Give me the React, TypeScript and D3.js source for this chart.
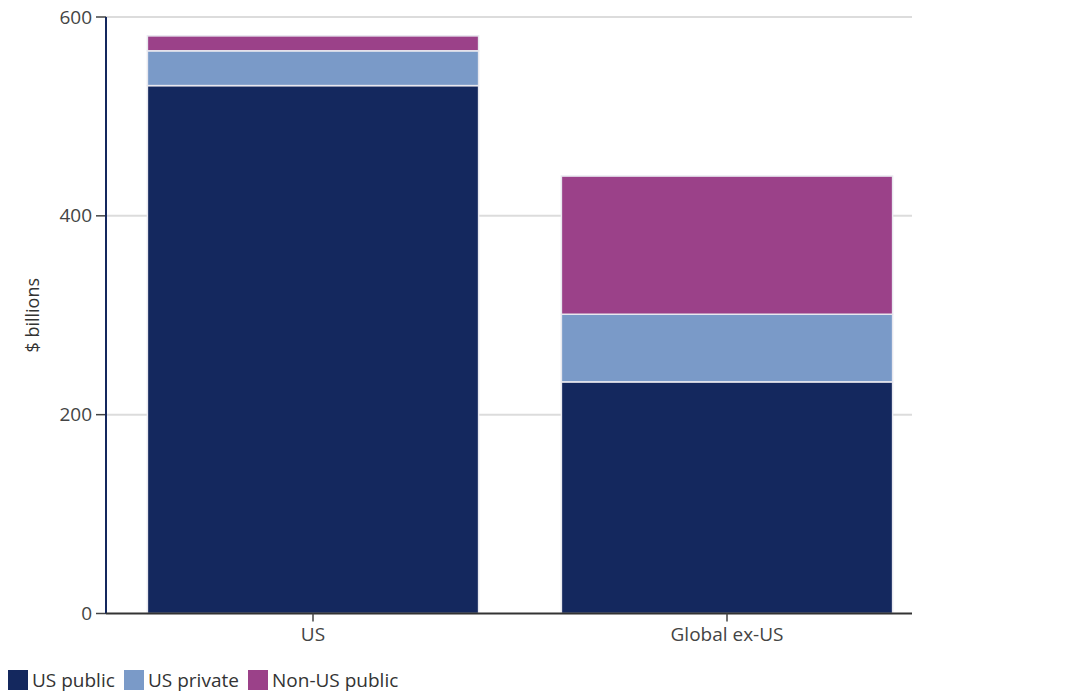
import React from "react";
import * as d3 from "d3";

const categories = ["US", "Global ex-US"];
const seriesNames = ["US public", "US private", "Non-US public"];
const usPublic = [531, 233];
const usPrivate = [35, 68];
const nonUsPublic = [15, 139];
const colors = ["#14285e", "#7a9ac8", "#9b4189"];
const yTicks = [0, 200, 400, 600];

const W = 1070;
const H = 700;
const M = { left: 106, right: 912, top: 17, bottom: 613.5 };
const FONT = "'Open Sans', 'DejaVu Sans', sans-serif";

export default function App() {
  const x = d3
    .scaleBand<string>()
    .domain(categories)
    .range([M.left, 934])
    .paddingInner(0.2)
    .paddingOuter(0.1);
  const y = d3.scaleLinear().domain([0, 600]).range([M.bottom, M.top]);

  const rows = categories.map((c, i) => ({
    cat: c,
    "US public": usPublic[i],
    "US private": usPrivate[i],
    "Non-US public": nonUsPublic[i],
  }));
  const stacked = d3.stack<any>().keys(seriesNames)(rows);

  return (
    <div style={{ margin: -8, width: W, height: H, background: "#fff" }}>
      <svg width={W} height={H} style={{ display: "block", fontFamily: FONT }}>
        {yTicks.map((t) => (
          <g key={t}>
            {t > 0 && (
              <line x1={M.left} x2={M.right} y1={y(t)} y2={y(t)} stroke="#dcdcdc" strokeWidth={2} />
            )}
            <line x1={96} x2={M.left} y1={y(t)} y2={y(t)} stroke="#444" strokeWidth={1.5} />
            <text x={92} y={y(t)} dy="0.35em" textAnchor="end" fontSize={19} fill="#444">
              {t}
            </text>
          </g>
        ))}
        <text
          transform={`translate(39,${(M.top + M.bottom) / 2}) rotate(-90)`}
          textAnchor="middle"
          fontSize={18}
          fill="#333"
        >
          $ billions
        </text>
        {stacked.map((s, si) =>
          s.map((d, i) => (
            <rect
              key={`${si}-${i}`}
              x={x(categories[i])!}
              width={x.bandwidth()}
              y={y(d[1])}
              height={y(d[0]) - y(d[1])}
              fill={colors[si]}
              stroke="#e8e8ef"
              strokeWidth={1.5}
            />
          ))
        )}
        <line x1={M.left} x2={M.left} y1={M.top} y2={M.bottom} stroke="#14285e" strokeWidth={2} />
        <line x1={M.left} x2={M.right} y1={M.bottom} y2={M.bottom} stroke="#333" strokeWidth={2} />
        {categories.map((c) => {
          const cx = x(c)! + x.bandwidth() / 2;
          return (
            <g key={c}>
              <line x1={cx} x2={cx} y1={M.bottom} y2={M.bottom + 8} stroke="#444" strokeWidth={1.5} />
              <text x={cx} y={641} textAnchor="middle" fontSize={19} fill="#444">
                {c}
              </text>
            </g>
          );
        })}
        {(() => {
          let xPos = 8;
          const widths = [116, 124, 150];
          return seriesNames.map((n, i) => {
            const gx = xPos;
            xPos += widths[i];
            return (
              <g key={n} transform={`translate(${gx},670)`}>
                <rect x={0} y={0} width={20} height={20} fill={colors[i]} />
                <text x={24} y={17} fontSize={19} fill="#333">
                  {n}
                </text>
              </g>
            );
          });
        })()}
      </svg>
    </div>
  );
}
